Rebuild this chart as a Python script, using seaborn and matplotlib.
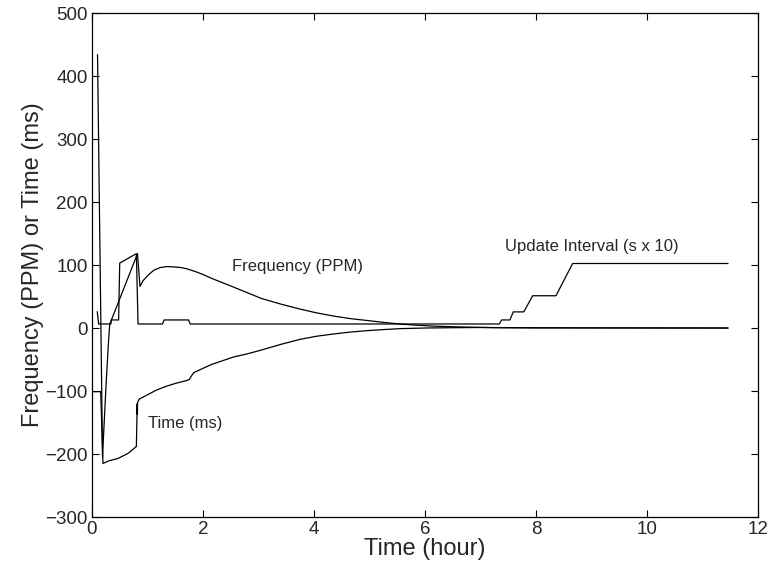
import numpy as np
import pandas as pd
import matplotlib
matplotlib.use("Agg")
import matplotlib.pyplot as plt
import seaborn as sns

# ----------------------------------------
# Data
# ----------------------------------------
freq_hour = [0.10, 0.19, 0.22, 0.26, 0.30, 0.32, 0.82, 0.865, 0.92, 0.98, 1.05, 1.12,
             1.23, 1.35, 1.47, 1.60, 1.71, 1.85, 2.00, 2.15, 2.35, 2.55, 2.80, 3.05,
             3.40, 3.75, 4.05, 4.35, 4.65, 4.95, 5.25, 5.55, 5.85, 6.15, 6.50, 7.00,
             7.35, 8.00, 9.00, 10.00, 11.46]
freq_ppm = [434, -205, -150, -80, -19, 6, 118, 66, 75, 81, 87, 92,
            96, 97.5, 97, 96, 94, 90, 85, 79, 72, 65, 56, 47,
            38, 30, 24, 19, 15, 12, 9, 6.3, 4.5, 3, 2, 1,
            0.5, 0.3, 0.2, 0.1, 0]

time_hour = [0.0, 0.157, 0.198, 0.30, 0.47, 0.65, 0.80, 0.815, 0.818, 0.822, 0.85,
             1.00, 1.15, 1.32, 1.50, 1.68, 1.75, 1.83, 2.00, 2.15, 2.35, 2.55, 2.80,
             3.05, 3.40, 3.75, 4.05, 4.35, 4.65, 4.95, 5.25, 5.55, 6.00, 6.50, 7.00,
             7.35, 8.00, 9.00, 10.00, 11.46]
time_ms = [-101, -101, -215, -211, -207, -199, -188, -120, -137, -118, -113,
           -106, -99, -93, -88, -84, -82, -71, -64, -58, -52, -46, -41,
           -35, -26, -18, -13, -9.5, -6.5, -4.2, -2.5, -1, 0, 0.5, 0.8,
           0.6, 0.3, 0.2, 0.1, 0]

upd_hour = [0.095, 0.12, 0.34, 0.35, 0.48, 0.50, 0.80, 0.83, 1.27, 1.30, 1.74, 1.77,
            7.34, 7.38, 7.53, 7.59, 7.78, 7.94, 8.36, 8.66, 11.46]
upd_interval = [26, 6.4, 6.4, 12.8, 12.8, 103, 118, 6.4, 6.4, 12.8, 12.8, 6.4,
                6.4, 12.8, 12.8, 25.6, 25.6, 51.2, 51.2, 102.4, 102.4]

df_freq = pd.DataFrame({"hour": freq_hour, "value": freq_ppm})
df_time = pd.DataFrame({"hour": time_hour, "value": time_ms})
df_upd = pd.DataFrame({"hour": upd_hour, "value": upd_interval})

# ----------------------------------------
# Style
# ----------------------------------------
sns.set_style("ticks", {"xtick.direction": "in", "ytick.direction": "in"})
plt.rcParams["font.family"] = ["Liberation Sans", "DejaVu Sans"]

fig, ax = plt.subplots(figsize=(7.69, 5.73), dpi=100)
fig.subplots_adjust(left=0.1196, right=0.9857, bottom=0.0977, top=0.9773)

for d in (df_freq, df_time, df_upd):
    sns.lineplot(data=d, x="hour", y="value", ax=ax, color="black",
                 linewidth=0.9, sort=False, estimator=None)

ax.set_xlim(0, 12)
ax.set_ylim(-300, 500)
ax.set_xticks(range(0, 13, 2))
ax.set_yticks(range(-300, 501, 100))
ax.tick_params(axis="both", which="both", direction="in", length=5, width=0.8,
               labelsize=13.5, top=True, right=True, color="black", pad=3)
for s in ax.spines.values():
    s.set_visible(True)
    s.set_linewidth(0.9)
    s.set_color("black")

ax.set_xlabel("Time (hour)", fontsize=17, labelpad=0)
ax.set_ylabel("Frequency (PPM) or Time (ms)", fontsize=17, labelpad=1)

ax.text(2.52, 97, "Frequency (PPM)", fontsize=12, va="center", ha="left")
ax.text(1.01, -151, "Time (ms)", fontsize=12, va="center", ha="left")
ax.text(7.44, 129, "Update Interval (s x 10)", fontsize=12, va="center", ha="left")

fig.savefig("out.png", dpi=100)
